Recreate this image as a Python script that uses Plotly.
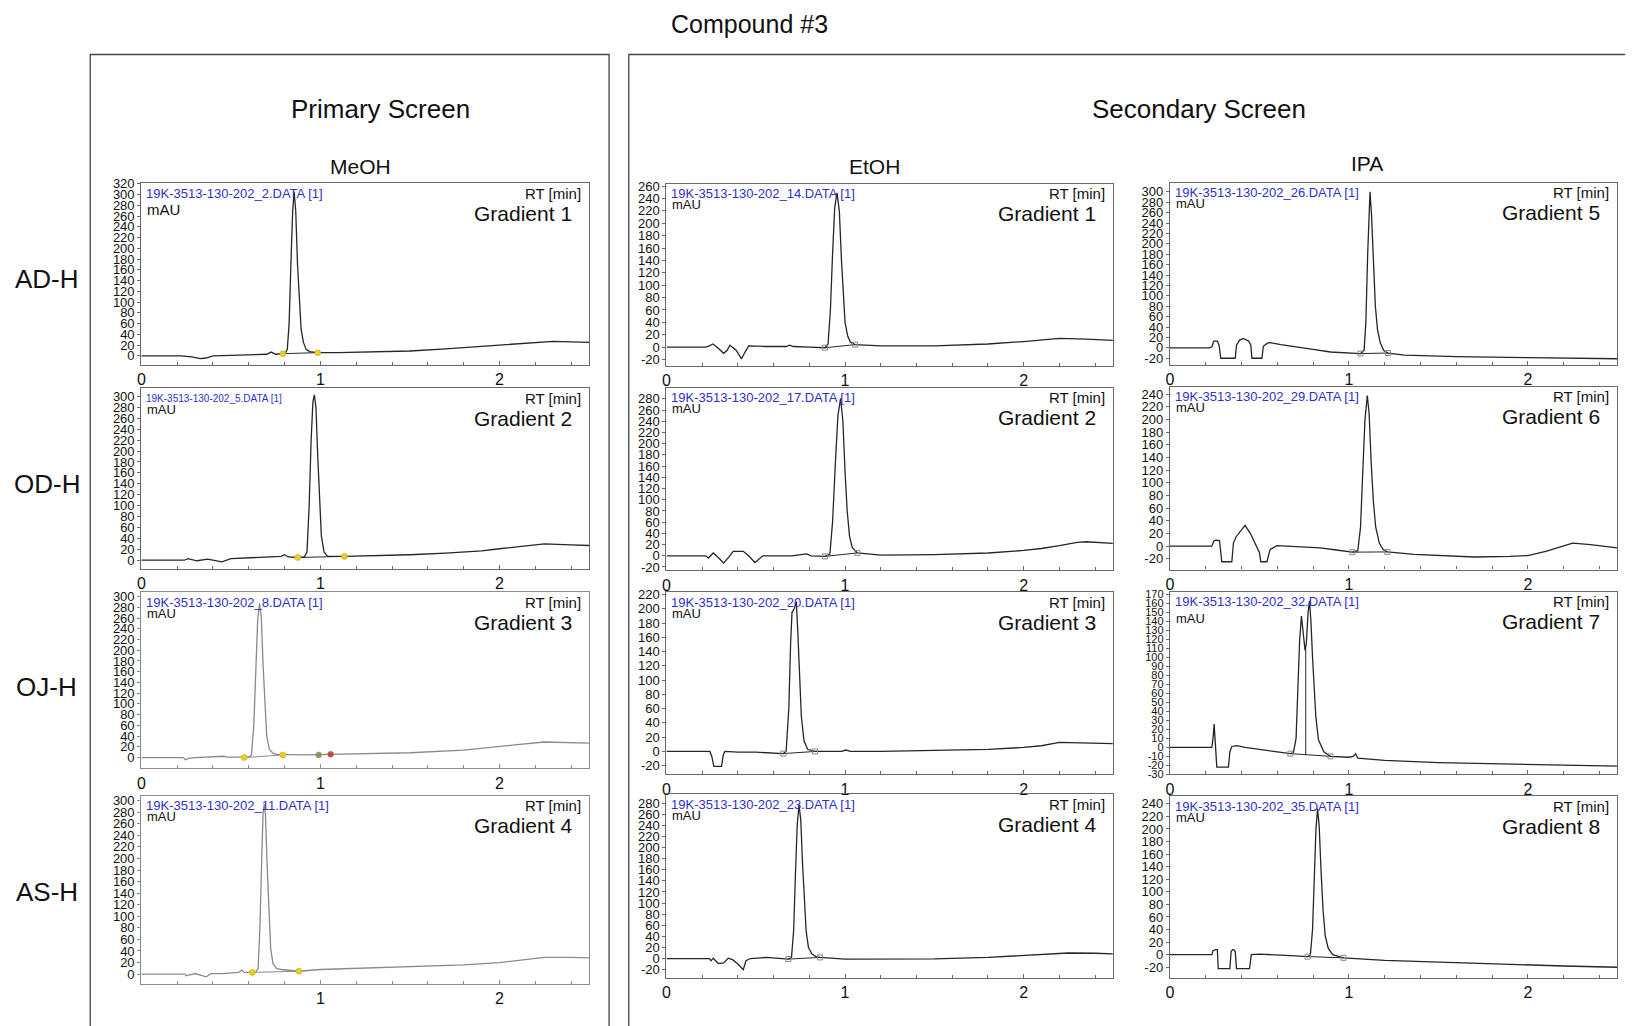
import plotly.graph_objects as go

# ---------------- data (retention time [min], signal [mAU]) ----------------
AD_MeOH_t = [0, 0.22, 0.28, 0.33, 0.36, 0.40, 0.50, 0.60, 0.70, 0.725, 0.75, 0.79, 0.805, 0.815, 0.825, 0.835, 0.845, 0.853, 0.862, 0.872, 0.882, 0.892, 0.905, 0.92, 0.94, 0.98, 1.1, 1.3, 1.5, 1.7, 1.9, 2.0, 2.1, 2.2, 2.3, 2.4, 2.5]
AD_MeOH_y = [0, 0, -2, -5, -4, 0, 1, 2, 3, 7, 3, 4, 6, 12, 60, 170, 270, 305, 270, 170, 95, 50, 25, 12, 8, 6, 6, 7, 9, 13, 18, 20, 23, 25, 27, 26, 25]

AD_EtOH_t = [0, 0.22, 0.24, 0.26, 0.29, 0.32, 0.34, 0.355, 0.39, 0.42, 0.44, 0.46, 0.55, 0.67, 0.69, 0.71, 0.80, 0.888, 0.905, 0.918, 0.93, 0.942, 0.955, 0.968, 0.98, 0.99, 1.0, 1.015, 1.03, 1.056, 1.2, 1.5, 1.8, 2.0, 2.1, 2.2, 2.35, 2.5]
AD_EtOH_y = [0, 0, 2, 5, -2, -10, -5, 3, -5, -19, -8, 2, 1, 1, 3, 1, 0, -1, 5, 60, 150, 225, 249, 220, 140, 80, 40, 18, 8, 4, 2, 2, 5, 9, 12, 14, 13, 11]

AD_IPA_t = [0, 0.22, 0.235, 0.245, 0.265, 0.275, 0.284, 0.365, 0.372, 0.39, 0.41, 0.44, 0.452, 0.458, 0.514, 0.522, 0.545, 0.56, 0.62, 0.71, 0.8, 0.897, 1.0, 1.065, 1.085, 1.095, 1.105, 1.112, 1.118, 1.126, 1.136, 1.148, 1.16, 1.175, 1.195, 1.219, 1.31, 1.6, 2.0, 2.5]
AD_IPA_y = [0, 0, 2, 13, 13, 5, -20, -20, 5, 15, 18, 13, 5, -20, -20, 3, 9, 10, 6, 2, -3, -8, -10, -11, -5, 50, 180, 270, 300, 260, 160, 80, 35, 10, -5, -10, -14, -17, -19, -21]

OD_MeOH_t = [0, 0.24, 0.26, 0.31, 0.37, 0.45, 0.5, 0.6, 0.7, 0.78, 0.80, 0.82, 0.873, 0.91, 0.925, 0.937, 0.948, 0.958, 0.966, 0.975, 0.985, 0.995, 1.005, 1.02, 1.04, 1.134, 1.3, 1.5, 1.7, 1.9, 2.0, 2.1, 2.25, 2.4, 2.5]
OD_MeOH_y = [0, 0, 3, -1, 2, -3, 3, 4, 5, 7, 10, 6, 5, 6, 15, 100, 220, 290, 303, 280, 190, 100, 45, 15, 7, 7, 8, 10, 13, 17, 21, 25, 30, 28, 27]

OD_EtOH_t = [0, 0.22, 0.235, 0.262, 0.29, 0.32, 0.35, 0.374, 0.43, 0.46, 0.495, 0.52, 0.54, 0.7, 0.785, 0.81, 0.888, 0.915, 0.93, 0.945, 0.96, 0.975, 0.988, 1.0, 1.012, 1.025, 1.04, 1.069, 1.2, 1.5, 1.8, 2.0, 2.1, 2.2, 2.3, 2.35, 2.5]
OD_EtOH_y = [0, 0, -4, 5, -3, -13, -2, 8, 8, 0, -12, -5, 0, 0, 3.5, 0, -1, 3, 60, 160, 250, 281, 240, 150, 80, 35, 15, 5, 1, 2, 5, 9.5, 13, 18, 24, 25, 22]

OD_IPA_t = [0, 0.234, 0.245, 0.255, 0.277, 0.29, 0.346, 0.355, 0.37, 0.42, 0.45, 0.477, 0.50, 0.508, 0.542, 0.56, 0.598, 0.654, 0.84, 0.93, 1.019, 1.05, 1.065, 1.078, 1.09, 1.103, 1.113, 1.125, 1.137, 1.15, 1.17, 1.19, 1.215, 1.364, 1.7, 1.9, 2.0, 2.1, 2.2, 2.25, 2.35, 2.5]
OD_IPA_y = [0, 0, 8, 9.4, 9, -24.5, -24.5, 5, 15, 33, 20, 3, -10, -24.5, -24.5, -5, 1, 0, -2.6, -6, -9.4, -7, 30, 120, 200, 238, 210, 130, 70, 30, 5, -5, -9, -13, -17, -16, -14.7, -8, 1, 5, 2.6, -2.6]

OJ_MeOH_t = [0, 0.236, 0.245, 0.26, 0.3, 0.4, 0.46, 0.48, 0.575, 0.6, 0.615, 0.628, 0.64, 0.65, 0.66, 0.67, 0.68, 0.69, 0.70, 0.715, 0.735, 0.76, 0.9, 1.05, 1.3, 1.5, 1.8, 2.0, 2.1, 2.25, 2.35, 2.5]
OJ_MeOH_y = [0, 0, -4, -2, 0, 1, 2.5, 1, 0, 1, 5, 60, 170, 260, 287, 260, 170, 90, 40, 15, 8, 6, 5, 6, 7, 9, 14, 20, 24, 29, 28, 27]

OJ_EtOH_t = [0, 0.243, 0.255, 0.265, 0.308, 0.318, 0.327, 0.4, 0.5, 0.654, 0.67, 0.685, 0.695, 0.703, 0.715, 0.727, 0.735, 0.745, 0.755, 0.77, 0.79, 0.83, 0.98, 1.005, 1.03, 1.2, 1.5, 1.8, 2.0, 2.1, 2.2, 2.35, 2.5]
OJ_EtOH_y = [0, 0, -8, -21, -21, -5, 0, -1, -1, -3, 0, 60, 150, 195, 200, 210, 170, 100, 50, 15, 3, 0, 0, 2, 0, 0, 1, 3, 5.6, 8, 12.6, 12, 11]

OJ_IPA_t = [0, 0.234, 0.241, 0.247, 0.252, 0.258, 0.262, 0.327, 0.335, 0.346, 0.374, 0.42, 0.523, 0.6, 0.673, 0.69, 0.705, 0.715, 0.725, 0.735, 0.745, 0.755, 0.762, 0.772, 0.78, 0.788, 0.797, 0.805, 0.815, 0.83, 0.86, 0.897, 1.0, 1.025, 1.037, 1.05, 1.2, 1.5, 2.0, 2.5]
OJ_IPA_y = [0, 0, 10, 26, 10, -4.5, -22, -22, -5, 1, 2, 0, -3.3, -5, -7, -6, 10, 60, 120, 146, 125, 108, 115, 150, 163, 140, 100, 70, 35, 8.5, -5, -10, -11, -10, -7, -12, -14.5, -17, -18.6, -21]

AS_MeOH_t = [0, 0.244, 0.25, 0.30, 0.362, 0.39, 0.45, 0.544, 0.56, 0.575, 0.62, 0.64, 0.652, 0.662, 0.672, 0.68, 0.686, 0.693, 0.702, 0.712, 0.722, 0.735, 0.755, 0.78, 0.88, 1.0, 1.2, 1.5, 1.8, 2.0, 2.1, 2.25, 2.4, 2.5]
AS_MeOH_y = [0, 0, -3, 1, -4.6, 1, 1, 3, 7, 3, 3, 4, 10, 80, 200, 280, 294, 275, 190, 100, 45, 18, 10, 8, 5, 8, 10, 13, 16, 20, 24, 29, 29, 28]

AS_EtOH_t = [0, 0.24, 0.25, 0.262, 0.29, 0.32, 0.346, 0.37, 0.40, 0.43, 0.445, 0.47, 0.56, 0.682, 0.7, 0.712, 0.722, 0.732, 0.742, 0.752, 0.762, 0.772, 0.782, 0.795, 0.815, 0.84, 0.86, 1.0, 1.5, 1.8, 2.0, 2.25, 2.4, 2.5]
AS_EtOH_y = [0, 0, -4, 0.6, -9, -8, 0.6, -2, -10, -20, -4, 0, 2, -1, 2, 50, 150, 240, 277, 250, 170, 100, 50, 20, 8, 3, 2, -1, -0.6, 2, 5, 10, 9.5, 8.4]

AS_IPA_t = [0, 0.235, 0.24, 0.255, 0.265, 0.27, 0.335, 0.342, 0.35, 0.356, 0.365, 0.372, 0.445, 0.455, 0.5, 0.6, 0.7, 0.77, 0.785, 0.797, 0.807, 0.816, 0.825, 0.834, 0.845, 0.856, 0.868, 0.885, 0.91, 0.97, 1.2, 1.5, 1.8, 2.0, 2.2, 2.5]
AS_IPA_y = [0, 0, 6, 8, 8, -22, -22, 5, 8, 8, 5, -22, -22, 0, 1, 0, -2, -3, 0, 40, 130, 200, 232, 205, 130, 70, 30, 10, 0, -5, -9, -12, -15, -17, -18, -20]

# integration start / end marks
AD_MeOH_marks = ([0.79, 0.985], [4, 6])
AD_EtOH_marks = ([0.888, 1.056], [-1, 4])
AD_IPA_marks = ([1.065, 1.219], [-11, -10])
OD_MeOH_marks = ([0.873, 1.134], [5, 7])
OD_EtOH_marks = ([0.888, 1.069], [-1, 5])
OD_IPA_marks = ([1.019, 1.215], [-9.4, -9])
OJ_MeOH_marks = ([0.575, 0.79, 0.99, 1.057], [0, 5, 5, 6])
OJ_EtOH_marks = ([0.654, 0.832], [-3, 0])
OJ_IPA_marks = ([0.673, 0.897], [-7, -10])
AS_MeOH_marks = ([0.62, 0.88], [3, 5])
AS_EtOH_marks = ([0.682, 0.86], [-1, 2])
AS_IPA_marks = ([0.77, 0.97], [-3, -5])
OJ_IPA_drop = ([0.759, 0.759], [-8.5, 110])

columns = ["MeOH", "EtOH", "IPA"]
rows = ["AD-H", "OD-H", "OJ-H", "AS-H"]
files = ["19K-3513-130-202_2.DATA [1]", "19K-3513-130-202_14.DATA [1]", "19K-3513-130-202_26.DATA [1]",
         "19K-3513-130-202_5.DATA [1]", "19K-3513-130-202_17.DATA [1]", "19K-3513-130-202_29.DATA [1]",
         "19K-3513-130-202_8.DATA [1]", "19K-3513-130-202_20.DATA [1]", "19K-3513-130-202_32.DATA [1]",
         "19K-3513-130-202_11.DATA [1]", "19K-3513-130-202_23.DATA [1]", "19K-3513-130-202_35.DATA [1]"]
gradients = ["Gradient 1", "Gradient 1", "Gradient 5",
             "Gradient 2", "Gradient 2", "Gradient 6",
             "Gradient 3", "Gradient 3", "Gradient 7",
             "Gradient 4", "Gradient 4", "Gradient 8"]
x_ticks = [0, 1, 2]

series_t = [AD_MeOH_t, AD_EtOH_t, AD_IPA_t, OD_MeOH_t, OD_EtOH_t, OD_IPA_t,
            OJ_MeOH_t, OJ_EtOH_t, OJ_IPA_t, AS_MeOH_t, AS_EtOH_t, AS_IPA_t]
series_y = [AD_MeOH_y, AD_EtOH_y, AD_IPA_y, OD_MeOH_y, OD_EtOH_y, OD_IPA_y,
            OJ_MeOH_y, OJ_EtOH_y, OJ_IPA_y, AS_MeOH_y, AS_EtOH_y, AS_IPA_y]
marks = [AD_MeOH_marks, AD_EtOH_marks, AD_IPA_marks, OD_MeOH_marks, OD_EtOH_marks, OD_IPA_marks,
         OJ_MeOH_marks, OJ_EtOH_marks, OJ_IPA_marks, AS_MeOH_marks, AS_EtOH_marks, AS_IPA_marks]

# ---------------- layout geometry (target pixels in the photographed page) ----------------
W, H = 1633, 1026
OFF = 8  # default page margin around the figure
def fx(px):
    p = (px - 4.4) / 0.9973
    return (p - OFF) / W
def fy(py):
    p = (py - 6.5) / 0.989
    return 1 - (p - OFF) / H

col_x = [(141.7, 589.3), (666.7, 1113.0), (1170.0, 1617.3)]
panel_y = [(183, 365), (183.3, 365.7), (182.7, 365),
           (388.3, 569.3), (387.7, 570.7), (386.7, 570),
           (592.7, 769), (592.7, 775), (592.3, 775),
           (796.7, 985), (795, 979), (797, 979)]
y_ranges = [(-17, 321), (-30, 264), (-33, 317),
            (-16, 315), (-26, 300), (-37, 252),
            (-20, 308), (-32, 223), (-30, 173),
            (-17, 308), (-35, 296), (-37, 252)]
y_tick_specs = [(0, 320, 20), (-20, 260, 20), (-20, 300, 20),
                (0, 300, 20), (-20, 280, 20), (-20, 240, 20),
                (0, 300, 20), (-20, 220, 20), (-30, 170, 10),
                (0, 300, 20), (-20, 280, 20), (-20, 240, 20)]

FONT = "Liberation Sans, Arial, Helvetica, sans-serif"
BLUE = "#2f2fc8"

fig = go.Figure()
annotations = []
shapes = []
layout_axes = {}

for i in range(12):
    r, c = divmod(i, 3)
    n = i + 1
    xa = "x" if n == 1 else f"x{n}"
    ya = "y" if n == 1 else f"y{n}"
    xl, xr = col_x[c]
    yt, yb = panel_y[i]
    light = (c == 0 and r >= 2)
    lc = "#8a8a8a" if light else "#262626"
    frame = "#8c8c8c" if light else "#6a6a6a"

    fig.add_trace(go.Scatter(x=series_t[i], y=series_y[i], mode="lines",
                             line=dict(color=lc, width=1.3), xaxis=xa, yaxis=ya,
                             hoverinfo="skip", showlegend=False))
    mt, my = marks[i]
    if c == 0:
        mcols = ["#e8d020"] * len(mt)
        if len(mt) == 4:
            mcols = ["#e8d020", "#e8d020", "#7a9a7a", "#c04060"]
        fig.add_trace(go.Scatter(x=mt[:2], y=my[:2], mode="lines", line=dict(color=lc, width=1),
                                 xaxis=xa, yaxis=ya, hoverinfo="skip", showlegend=False))
        fig.add_trace(go.Scatter(x=mt, y=my, mode="markers",
                                 marker=dict(color=mcols, size=6, symbol="circle",
                                             line=dict(color="#c0a010", width=0.5)),
                                 xaxis=xa, yaxis=ya, hoverinfo="skip", showlegend=False))
    else:
        fig.add_trace(go.Scatter(x=mt, y=my, mode="lines+markers", line=dict(color=lc, width=1),
                                 marker=dict(color="#888888", size=5, symbol="square-open",
                                             line=dict(color="#777777", width=1)),
                                 xaxis=xa, yaxis=ya, hoverinfo="skip", showlegend=False))
    if i == 8:
        fig.add_trace(go.Scatter(x=OJ_IPA_drop[0], y=OJ_IPA_drop[1], mode="lines",
                                 line=dict(color=lc, width=1), xaxis=xa, yaxis=ya,
                                 hoverinfo="skip", showlegend=False))

    y0, y1, ys = y_tick_specs[i]
    yv = list(range(y0, y1 + 1, ys))
    xtext = ["" if (i == 9 and v == 0) else str(v) for v in x_ticks]
    xkey = "xaxis" if n == 1 else f"xaxis{n}"
    ykey = "yaxis" if n == 1 else f"yaxis{n}"
    layout_axes[xkey] = dict(domain=[fx(xl), fx(xr)], anchor=ya, range=[0, 2.5],
                             tickmode="array", tickvals=x_ticks, ticktext=xtext,
                             ticks="inside", ticklen=4, tickcolor=frame,
                             minor=dict(tickmode="linear", tick0=0, dtick=0.2, ticks="inside",
                                        ticklen=3, tickcolor=frame),
                             showline=True, mirror=True, linecolor=frame, linewidth=1.3,
                             showgrid=False, zeroline=False, fixedrange=True,
                             tickfont=dict(family=FONT, size=16, color="#111"))
    layout_axes[ykey] = dict(domain=[fy(yb), fy(yt)], anchor=xa, range=list(y_ranges[i]),
                             tickmode="array", tickvals=yv, ticktext=[str(v) for v in yv],
                             ticks="outside", ticklen=3, tickcolor=frame,
                             showline=True, mirror=True, linecolor=frame, linewidth=1.3,
                             showgrid=False, zeroline=False, fixedrange=True,
                             tickfont=dict(family=FONT, size=11 if i == 8 else 13, color="#111"))

    # in-panel texts
    annotations.append(dict(x=fx(xl + 3), y=fy(yt + 10), xref="paper", yref="paper",
                            text=files[i], showarrow=False, xanchor="left", yanchor="middle",
                            font=dict(family=FONT, size=10 if i == 3 else 13, color=BLUE)))
    mau_off = 26 if i == 0 else (27 if i == 8 else 21)
    annotations.append(dict(x=fx(xl + 4), y=fy(yt + mau_off), xref="paper", yref="paper",
                            text="mAU", showarrow=False, xanchor="left", yanchor="middle",
                            font=dict(family=FONT, size=15 if i == 0 else 13, color="#111")))
    annotations.append(dict(x=fx(xr - 6), y=fy(yt + 10), xref="paper", yref="paper",
                            text="RT [min]", showarrow=False, xanchor="right", yanchor="middle",
                            font=dict(family=FONT, size=15, color="#111")))
    annotations.append(dict(x=fx(xr - 15), y=fy(yt + 30), xref="paper", yref="paper",
                            text=gradients[i], showarrow=False, xanchor="right", yanchor="middle",
                            font=dict(family=FONT, size=21, color="#111")))

def header(text, cx, cy, size):
    annotations.append(dict(x=fx(cx), y=fy(cy), xref="paper", yref="paper", text=text,
                            showarrow=False, xanchor="center", yanchor="middle",
                            font=dict(family=FONT, size=size, color="#111")))

header("Compound #3", 750, 23, 25)
header("Primary Screen", 381, 109, 26)
header("Secondary Screen", 1198.7, 109, 26)
for name, cx, cy in zip(columns, [361, 875, 1367.5], [166.6, 166.6, 163.5]):
    header(name, cx, cy, 21)
for name, cy in zip(rows, [279, 484.3, 687.4, 892.6]):
    header(name, 47, cy, 26)

# outer group boxes
shapes.append(dict(type="rect", xref="paper", yref="paper", x0=fx(90.6), x1=fx(609.3),
                   y0=fy(1060), y1=fy(54), line=dict(color="#444", width=1.3)))
shapes.append(dict(type="rect", xref="paper", yref="paper", x0=fx(629), x1=fx(1670),
                   y0=fy(1060), y1=fy(54), line=dict(color="#444", width=1.3)))

fig.update_layout(width=W, height=H, margin=dict(l=0, r=0, t=0, b=0),
                  paper_bgcolor="white", plot_bgcolor="white", showlegend=False,
                  annotations=annotations, shapes=shapes, **layout_axes)

fig.write_html("out.html")
